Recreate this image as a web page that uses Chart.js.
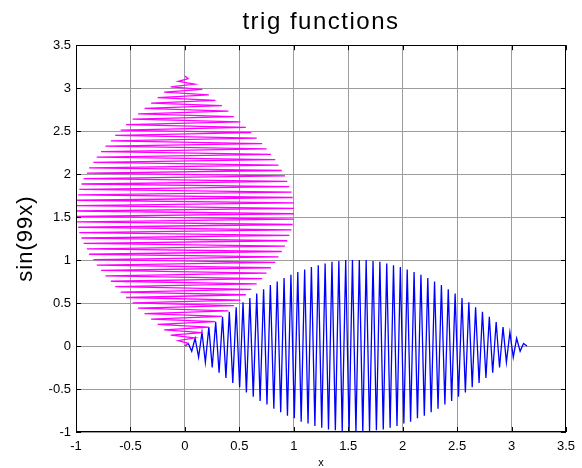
<!DOCTYPE html>
<html>
<head>
<meta charset="utf-8">
<script src="https://cdn.jsdelivr.net/npm/chart.js@4.4.0/dist/chart.umd.min.js"></script>
<style>
  html, body { margin: 0; padding: 0; background: #fff; }
  canvas { display: block; }
</style>
</head>
<body>
<canvas id="chart" width="582" height="468"></canvas>
<script>
// sample positions along x (0 .. pi)
const xValues = [
    0.000, 0.031, 0.063, 0.094, 0.126, 0.157, 0.188, 0.220, 0.251, 0.283,
    0.314, 0.346, 0.377, 0.408, 0.440, 0.471, 0.503, 0.534, 0.565, 0.597,
    0.628, 0.660, 0.691, 0.723, 0.754, 0.785, 0.817, 0.848, 0.880, 0.911,
    0.942, 0.974, 1.005, 1.037, 1.068, 1.100, 1.131, 1.162, 1.194, 1.225,
    1.257, 1.288, 1.319, 1.351, 1.382, 1.414, 1.445, 1.477, 1.508, 1.539,
    1.571, 1.602, 1.634, 1.665, 1.696, 1.728, 1.759, 1.791, 1.822, 1.854,
    1.885, 1.916, 1.948, 1.979, 2.011, 2.042, 2.073, 2.105, 2.136, 2.168,
    2.199, 2.231, 2.262, 2.293, 2.325, 2.356, 2.388, 2.419, 2.450, 2.482,
    2.513, 2.545, 2.576, 2.608, 2.639, 2.670, 2.702, 2.733, 2.765, 2.796,
    2.827, 2.859, 2.890, 2.922, 2.953, 2.985, 3.016, 3.047, 3.079, 3.110,
    3.142
];

// sin(99x) at those samples (vertex heights of the zigzag)
const sinValues = [
    0.00, 0.03, -0.06, 0.09, -0.13, 0.16, -0.19, 0.22, -0.25, 0.28,
    -0.31, 0.34, -0.37, 0.40, -0.43, 0.45, -0.48, 0.51, -0.54, 0.56,
    -0.59, 0.61, -0.64, 0.66, -0.68, 0.71, -0.73, 0.75, -0.77, 0.79,
    -0.81, 0.83, -0.84, 0.86, -0.88, 0.89, -0.90, 0.92, -0.93, 0.94,
    -0.95, 0.96, -0.97, 0.98, -0.98, 0.99, -0.99, 1.00, -1.00, 1.00,
    -1.00, 1.00, -1.00, 1.00, -0.99, 0.99, -0.98, 0.98, -0.97, 0.96,
    -0.95, 0.94, -0.93, 0.92, -0.90, 0.89, -0.88, 0.86, -0.84, 0.83,
    -0.81, 0.79, -0.77, 0.75, -0.73, 0.71, -0.68, 0.66, -0.64, 0.61,
    -0.59, 0.56, -0.54, 0.51, -0.48, 0.45, -0.43, 0.40, -0.37, 0.34,
    -0.31, 0.28, -0.25, 0.22, -0.19, 0.16, -0.13, 0.09, -0.06, 0.03,
    0.00
];

const xTicks = [-1, -0.5, 0, 0.5, 1, 1.5, 2, 2.5, 3, 3.5];
const yTicks = [-1, -0.5, 0, 0.5, 1, 1.5, 2, 2.5, 3, 3.5];

const FONT = "'Liberation Sans', Arial, sans-serif";

// blue: (x, sin(99x)); magenta: the same curve with axes swapped
const bluePoints = xValues.map((x, i) => ({ x: x, y: sinValues[i] }));
const magentaPoints = xValues.map((x, i) => ({ x: sinValues[i], y: x }));

// MATLAB style: ticks pointing inward on all four sides + black box
const boxTicks = {
    id: 'boxTicks',
    afterDraw(chart) {
        const { ctx, chartArea: a, scales: { x, y } } = chart;
        const len = 5;
        ctx.save();
        ctx.strokeStyle = '#000';
        ctx.lineWidth = 1;
        ctx.beginPath();
        x.ticks.forEach(t => {
            const px = Math.round(x.getPixelForValue(t.value)) + 0.5;
            ctx.moveTo(px, a.bottom); ctx.lineTo(px, a.bottom - len);
            ctx.moveTo(px, a.top); ctx.lineTo(px, a.top + len);
        });
        y.ticks.forEach(t => {
            const py = Math.round(y.getPixelForValue(t.value)) + 0.5;
            ctx.moveTo(a.left, py); ctx.lineTo(a.left + len, py);
            ctx.moveTo(a.right, py); ctx.lineTo(a.right - len, py);
        });
        ctx.stroke();
        ctx.strokeRect(Math.round(a.left) + 0.5, Math.round(a.top) + 0.5,
            Math.round(a.width) - 1, Math.round(a.height) - 1);
        ctx.restore();
    }
};

// MATLAB's text is a bit wider than Arial, add some letter spacing to the titles
const spacedText = {
    id: 'spacedText',
    beforeDraw(chart) {
        const wrap = (obj, fn, sp) => {
            if (!obj || obj['_sp_' + fn]) return;
            const orig = obj[fn].bind(obj);
            obj[fn] = function (...args) {
                chart.ctx.save();
                chart.ctx.letterSpacing = sp;
                orig(...args);
                chart.ctx.restore();
            };
            obj['_sp_' + fn] = true;
        };
        wrap(chart.titleBlock, 'draw', '1.5px');
        wrap(chart.scales.y, 'drawTitle', '1px');
    }
};

const ctx = document.querySelector('#chart').getContext('2d');
const chart = new Chart(ctx, {
    type: 'scatter',
    data: {
        datasets: [
            {
                label: 'swapped',
                data: magentaPoints,
                borderColor: '#ff00ff',
                backgroundColor: '#ff00ff',
                borderWidth: 1.3,
                showLine: true,
                pointRadius: 0,
                tension: 0
            },
            {
                label: 'sin(99x)',
                data: bluePoints,
                borderColor: '#0000ff',
                backgroundColor: '#0000ff',
                borderWidth: 1.3,
                showLine: true,
                pointRadius: 0,
                tension: 0
            }
        ]
    },
    options: {
        responsive: false,
        animation: false,
        devicePixelRatio: 1,
        layout: { padding: { left: 0, right: 11, top: 0, bottom: 0 } },
        scales: {
            x: {
                type: 'linear',
                min: -1,
                max: 3.5,
                afterBuildTicks: s => { s.ticks = xTicks.map(v => ({ value: v })); },
                afterFit: s => { s.height = 36; },
                grid: { color: '#9c9c9c', lineWidth: 1, drawTicks: false },
                border: { display: false },
                ticks: {
                    color: '#000',
                    padding: 7,
                    maxRotation: 0,
                    callback: v => String(v),
                    font: { family: FONT, size: 13 }
                },
                title: {
                    display: true,
                    text: 'x',
                    color: '#000',
                    padding: { top: 0, bottom: -2 },
                    font: { family: FONT, size: 11 }
                }
            },
            y: {
                type: 'linear',
                min: -1,
                max: 3.5,
                afterBuildTicks: s => { s.ticks = yTicks.map(v => ({ value: v })); },
                afterFit: s => { s.width = 76; },
                grid: { color: '#9c9c9c', lineWidth: 1, drawTicks: false },
                border: { display: false },
                ticks: {
                    color: '#000',
                    padding: 5,
                    callback: v => String(v),
                    font: { family: FONT, size: 13 }
                },
                title: {
                    display: true,
                    text: 'sin(99x)',
                    color: '#000',
                    padding: { top: 13, bottom: 0 },
                    font: { family: FONT, size: 22 }
                }
            }
        },
        plugins: {
            legend: { display: false },
            tooltip: { enabled: false },
            title: {
                display: true,
                text: 'trig functions',
                color: '#000',
                fullSize: false,
                padding: { top: 7.5, bottom: 8.9 },
                font: { family: FONT, size: 24, weight: 'normal' }
            }
        }
    },
    plugins: [boxTicks, spacedText]
});
</script>
</body>
</html>
